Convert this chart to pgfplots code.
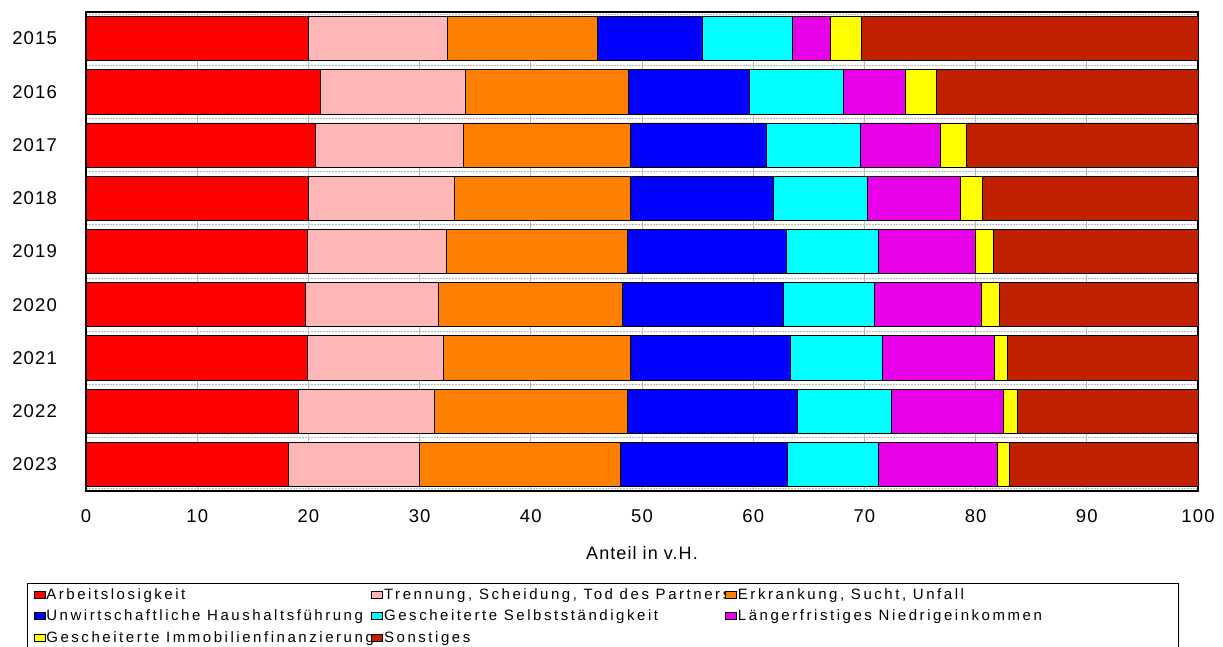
\documentclass[border=0pt]{standalone}
\usepackage{fontspec}
\setmainfont{Liberation Sans}
\newfontfamily\legfont[LetterSpace=17]{Liberation Sans}
\newfontfamily\tickfont[LetterSpace=6]{Liberation Sans}
\usepackage{pgfplots}
\usepackage{pgfplotstable}
\pgfplotsset{compat=1.18}

\definecolor{cArb}{HTML}{FF0000}
\definecolor{cTren}{HTML}{FFB6B6}
\definecolor{cErk}{HTML}{FF8000}
\definecolor{cUnw}{HTML}{0000FF}
\definecolor{cSelb}{HTML}{00FFFF}
\definecolor{cNied}{HTML}{E800E8}
\definecolor{cImmo}{HTML}{FFFF00}
\definecolor{cSons}{HTML}{C02000}

% Anteile der Ueberschuldungsursachen in v.H., pos 0 = 2015 ... 8 = 2023
\pgfplotstableread{
pos Arb  Tren Erk  Unw  Selb Nied Immo Sons
0   20.0 12.5 13.5 9.4  8.1  3.4  2.8  30.3
1   21.1 13.0 14.7 10.9 8.4  5.6  2.8  23.5
2   20.6 13.3 15.1 12.2 8.4  7.2  2.4  20.8
3   20.0 13.1 15.9 12.8 8.5  8.3  2.0  19.4
4   19.9 12.5 16.3 14.3 8.3  8.7  1.6  18.4
5   19.7 12.0 16.5 14.5 8.2  9.6  1.6  17.9
6   19.9 12.2 16.9 14.3 8.3  10.1 1.2  17.1
7   19.1 12.2 17.4 15.3 8.4  10.1 1.3  16.2
8   18.2 11.8 18.1 15.0 8.2  10.7 1.0  17.0
}\datatable

\newcommand{\legtext}[2]{\makebox[#1][l]{#2}}

\begin{document}
\begin{tikzpicture}
\useasboundingbox (-86bp,-156bp) rectangle (1137bp,491bp);
\clip (-86bp,-156bp) rectangle (1137bp,491bp);
\begin{axis}[
  at={(0,0)}, anchor=south west,
  scale only axis, width=1112bp, height=479bp,
  xbar stacked, bar width=0.83,
  xmin=0, xmax=100, ymin=-0.5, ymax=8.5, y dir=reverse,
  xtick={0,10,...,100},
  ytick={0,1,2,3,4,5,6,7,8},
  yticklabels={2015,2016,2017,2018,2019,2020,2021,2022,2023},
  minor ytick={-0.45,0.5,1.5,2.5,3.5,4.5,5.5,6.5,7.5,8.45},
  xmajorgrids, yminorgrids,
  major grid style={gray!55, line width=0.8bp},
  minor grid style={gray!55, line width=1.2bp, dash pattern=on 2bp off 1bp},
  major tick length=0pt, minor tick length=0pt,
  axis line style={black, line width=1.2bp},
  /pgf/number format/assume math mode=true,
  ticklabel style={font=\tickfont\fontsize{18.5bp}{22bp}\selectfont, inner sep=0pt},
  xticklabel style={yshift=-18bp},
  yticklabel style={xshift=-29bp},
  xlabel={Anteil in v.H.},
  xlabel style={at={(axis description cs:0.5,-0.1294)}, anchor=center,
    font=\tickfont\fontsize{18bp}{21bp}\selectfont},
  legend columns=3, legend cell align=left,
  legend style={at={(axis description cs:-0.05306,-0.19207)}, anchor=north west,
    draw=black, line width=1bp, inner xsep=6bp, inner ysep=5bp,
    column sep=0pt, row sep=9bp, nodes={inner sep=0pt},
    font=\legfont\fontsize{15bp}{18bp}\selectfont},
  sq/.style={draw=black, line width=0.8bp,
    legend image code/.code={%
      \draw[##1, draw=black, line width=0.8bp] (0bp,-3.5bp) rectangle (11bp,3.5bp);
      \path (12bp,0bp);}},
]
\addplot[sq, fill=cArb]  table[x=Arb,  y=pos] {\datatable};
\addlegendentry{\legtext{325bp}{Arbeitslosigkeit}}
\addplot[sq, fill=cTren] table[x=Tren, y=pos] {\datatable};
\addlegendentry{\legtext{341bp}{Trennung, Scheidung, Tod des Partners}}
\addplot[sq, fill=cErk]  table[x=Erk,  y=pos] {\datatable};
\addlegendentry{\legtext{435bp}{Erkrankung, Sucht, Unfall}}
\addplot[sq, fill=cUnw]  table[x=Unw,  y=pos] {\datatable};
\addlegendentry{\legtext{325bp}{Unwirtschaftliche Haushaltsführung}}
\addplot[sq, fill=cSelb] table[x=Selb, y=pos] {\datatable};
\addlegendentry{\legtext{341bp}{Gescheiterte Selbstständigkeit}}
\addplot[sq, fill=cNied] table[x=Nied, y=pos] {\datatable};
\addlegendentry{\legtext{435bp}{Längerfristiges Niedrigeinkommen}}
\addplot[sq, fill=cImmo] table[x=Immo, y=pos] {\datatable};
\addlegendentry{\legtext{325bp}{Gescheiterte Immobilienfinanzierung}}
\addplot[sq, fill=cSons] table[x=Sons, y=pos] {\datatable};
\addlegendentry{\legtext{341bp}{Sonstiges}}
\end{axis}
\end{tikzpicture}
\end{document}
